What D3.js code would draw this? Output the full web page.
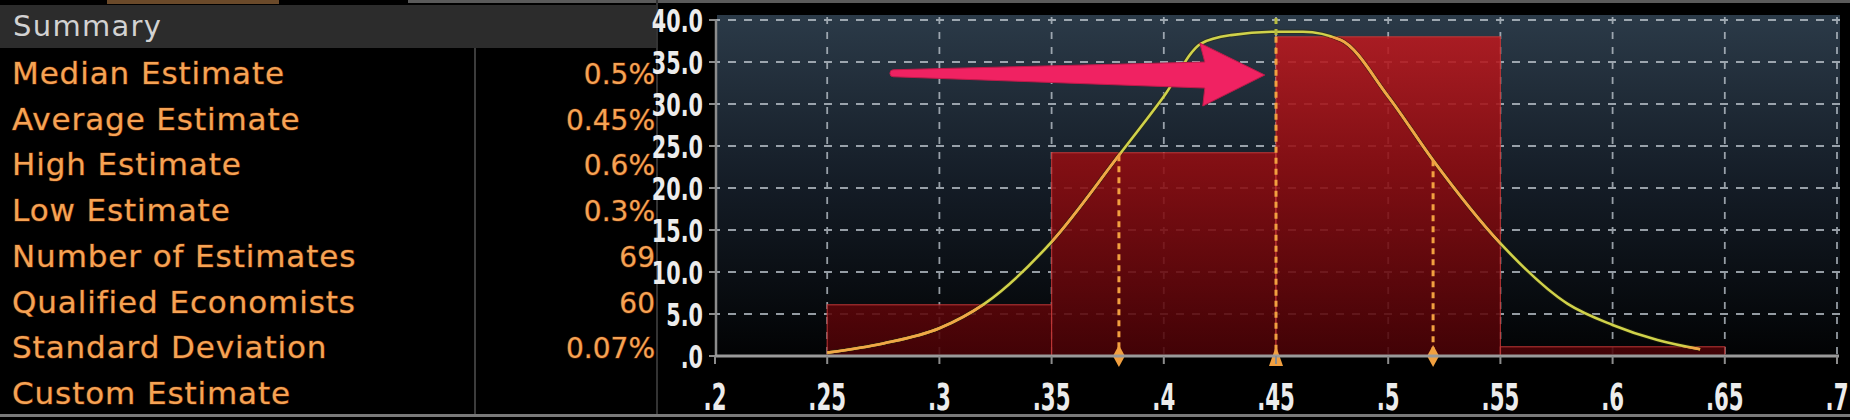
<!DOCTYPE html>
<html>
<head>
<meta charset="utf-8">
<script src="https://cdn.jsdelivr.net/npm/d3@7"></script>
<style>
html,body{margin:0;padding:0;background:#000;}
svg{display:block;}
</style>
</head>
<body>
<div id="chart"></div>
<script>
// ---------- data ----------
const summaryLabels = ["Median Estimate","Average Estimate","High Estimate","Low Estimate","Number of Estimates","Qualified Economists","Standard Deviation","Custom Estimate"];
const summaryValues = ["0.5%","0.45%","0.6%","0.3%","69","60","0.07%",""];

const xTicks = [0.2,0.25,0.3,0.35,0.4,0.45,0.5,0.55,0.6,0.65,0.7];
const xTickLabels = [".2",".25",".3",".35",".4",".45",".5",".55",".6",".65",".7"];
const yTicks = [0,5,10,15,20,25,30,35,40];
const yTickLabels = [".0","5.0","10.0","15.0","20.0","25.0","30.0","35.0","40.0"];

const binStart = [0.25,0.35,0.45,0.55];
const binEnd   = [0.35,0.45,0.55,0.65];
const binValue = [6.1,24.2,38.0,1.1];

const curveX = [0.25,0.275,0.30,0.32,0.35,0.38,0.40,0.4166,0.43,0.45,0.462,0.479,0.50,0.52,0.55,0.58,0.60,0.62,0.639];
const curveY = [0.4,1.5,3.3,6.2,13.6,23.9,30.9,37.2,38.2,38.6,38.6,37.6,30.9,23.3,13.4,6.2,3.7,1.9,0.8];

const meanX = 0.45;
const sdX = [0.38,0.52];
const sdTop = [23.9,23.3];

const arrowTail = {x:0.2795, y:33.6};
const arrowTip  = {x:0.445,  y:33.45};

// ---------- setup ----------
const W = 1850, H = 420;
const svg = d3.select("#chart").append("svg").attr("width",W).attr("height",H);
const defs = svg.append("defs");

const x = d3.scaleLinear().domain([0.2,0.7]).range([715,1837]);
const y = d3.scaleLinear().domain([0,40]).range([356,20]);

svg.append("rect").attr("width",W).attr("height",H).attr("fill","#000");

// top strips
svg.append("rect").attr("x",408).attr("y",0).attr("width",W-408).attr("height",3).attr("fill","#5a5a5a");
svg.append("rect").attr("x",107).attr("y",0).attr("width",172).attr("height",4).attr("fill","#6b4a2a");

// ---------- summary table ----------
svg.append("rect").attr("x",0).attr("y",5).attr("width",656).attr("height",43).attr("fill","#2c2c2c");
svg.append("text").attr("x",13).attr("y",36).text("Summary")
  .attr("font-family","DejaVu Sans").attr("font-size",29).attr("letter-spacing",1.3).attr("fill","#d2d2d2");
svg.append("line").attr("x1",475).attr("x2",475).attr("y1",48).attr("y2",415).attr("stroke","#3c3c3c").attr("stroke-width",2);
svg.append("line").attr("x1",657).attr("x2",657).attr("y1",0).attr("y2",415).attr("stroke","#333").attr("stroke-width",2);

const rowY = d3.scaleLinear().domain([0,7]).range([84,404]);
const tbl = svg.append("g").attr("font-family","DejaVu Sans")
  .attr("fill","#f5a355").attr("stroke","#5a2200").attr("stroke-width",1.2).attr("paint-order","stroke");
tbl.selectAll("text.lab").data(summaryLabels).join("text").attr("class","lab")
  .attr("x",12).attr("y",(d,i)=>rowY(i)).attr("font-size",31).attr("letter-spacing",0.9).text(d=>d);
tbl.selectAll("text.val").data(summaryValues).join("text").attr("class","val")
  .attr("x",655).attr("y",(d,i)=>rowY(i)).attr("font-size",28).attr("text-anchor","end").text(d=>d);

// bottom border
svg.append("rect").attr("x",0).attr("y",414).attr("width",W).attr("height",3).attr("fill","#7a7a7a");

// ---------- plot ----------
const bgGrad = defs.append("linearGradient").attr("id","bgGrad")
  .attr("gradientUnits","userSpaceOnUse").attr("x1",0).attr("x2",0).attr("y1",15).attr("y2",356);
bgGrad.append("stop").attr("offset",0).attr("stop-color","#2b3a48");
bgGrad.append("stop").attr("offset",0.5).attr("stop-color","#141c26");
bgGrad.append("stop").attr("offset",1).attr("stop-color","#020304");

svg.append("rect").attr("x",717).attr("y",15).attr("width",1840-717).attr("height",356-15).attr("fill","url(#bgGrad)");

// grid
const grid = svg.append("g").attr("stroke","#c4ccd4").attr("stroke-width",1.8).attr("stroke-dasharray","8,8").attr("opacity",0.75);
grid.selectAll("line.h").data(yTicks.slice(1)).join("line").attr("class","h")
  .attr("x1",x(0.2)-3).attr("x2",x(0.7)+3).attr("y1",d=>y(d)).attr("y2",d=>y(d));
grid.selectAll("line.v").data(xTicks.slice(1)).join("line").attr("class","v")
  .attr("x1",d=>x(d)).attr("x2",d=>x(d)).attr("y1",y(40)-3).attr("y2",y(0)).attr("stroke-dasharray","7,8");

// bars
const barGrad = defs.append("linearGradient").attr("id","barGrad")
  .attr("gradientUnits","userSpaceOnUse").attr("x1",0).attr("x2",0).attr("y1",y(40)).attr("y2",y(0));
barGrad.append("stop").attr("offset",0).attr("stop-color","#c01a20");
barGrad.append("stop").attr("offset",0.45).attr("stop-color","#8e0c10");
barGrad.append("stop").attr("offset",1).attr("stop-color","#4a0206");

const bins = binValue.map((v,i)=>({x0:binStart[i],x1:binEnd[i],v}));
svg.append("g").selectAll("rect").data(bins).join("rect")
  .attr("x",d=>x(d.x0)).attr("width",d=>x(d.x1)-x(d.x0))
  .attr("y",d=>y(d.v)).attr("height",d=>y(0)-y(d.v))
  .attr("fill","url(#barGrad)").attr("fill-opacity",0.88)
  .attr("stroke","#c83a3a").attr("stroke-width",1.2).attr("stroke-opacity",0.8);

const clip = defs.append("clipPath").attr("id","barClip");
clip.selectAll("rect").data(bins).join("rect")
  .attr("x",d=>x(d.x0)).attr("width",d=>x(d.x1)-x(d.x0))
  .attr("y",d=>y(d.v)).attr("height",d=>y(0)-y(d.v));

// curve
const pts = curveX.map((v,i)=>[v,curveY[i]]);
const line = d3.line().x(d=>x(d[0])).y(d=>y(d[1])).curve(d3.curveMonotoneX);
svg.append("path").attr("d",line(pts)).attr("fill","none").attr("stroke","#2a2a10").attr("stroke-width",4.5).attr("opacity",0.5);
svg.append("path").attr("d",line(pts)).attr("fill","none").attr("stroke","#d0d24a").attr("stroke-width",2.6);
svg.append("path").attr("d",line(pts)).attr("fill","none").attr("stroke","#f2a646").attr("stroke-width",2.6).attr("clip-path","url(#barClip)");

// sd lines
const mk = svg.append("g");
mk.selectAll("line.sd").data(sdX).join("line").attr("class","sd")
  .attr("x1",d=>x(d)).attr("x2",d=>x(d)).attr("y1",(d,i)=>y(sdTop[i])).attr("y2",y(0))
  .attr("stroke","#f2a040").attr("stroke-width",3).attr("stroke-dasharray","6,5");
// mean line: above bar in yellow-green, inside bar in orange
const meanBar = d3.max(bins.filter(b=>b.x0===meanX||b.x1===meanX),b=>b.v);
mk.append("line").attr("x1",x(meanX)).attr("x2",x(meanX)).attr("y1",y(40)-2).attr("y2",y(meanBar))
  .attr("stroke","#b8bc40").attr("stroke-width",3).attr("stroke-dasharray","6,5");
mk.append("line").attr("x1",x(meanX)).attr("x2",x(meanX)).attr("y1",y(meanBar)).attr("y2",y(0))
  .attr("stroke","#f2a040").attr("stroke-width",3).attr("stroke-dasharray","6,5");

// axes lines
svg.append("line").attr("x1",x(0.2)+1).attr("x2",x(0.2)+1).attr("y1",y(40)).attr("y2",y(0)).attr("stroke","#8c8c8c").attr("stroke-width",2.5);
svg.append("g").selectAll("line").data(yTicks).join("line")
  .attr("x1",x(0.2)-6).attr("x2",x(0.2)+1).attr("y1",d=>y(d)).attr("y2",d=>y(d)).attr("stroke","#8c8c8c").attr("stroke-width",2);
svg.append("line").attr("x1",x(0.2)).attr("x2",x(0.7)+2).attr("y1",y(0)).attr("y2",y(0)).attr("stroke","#9a9a9a").attr("stroke-width",3);
svg.append("g").selectAll("line").data(xTicks).join("line")
  .attr("x1",d=>x(d)).attr("x2",d=>x(d)).attr("y1",y(0)).attr("y2",y(0)+8).attr("stroke","#8c8c8c").attr("stroke-width",2);

// markers
mk.selectAll("path.dia").data(sdX).join("path").attr("class","dia")
  .attr("transform",d=>`translate(${x(d)},${y(0)})`).attr("d","M0,-11L6,0L0,11L-6,0Z").attr("fill","#f2a040");
mk.append("path").attr("transform",`translate(${x(meanX)},${y(0)})`).attr("d","M0,-10L7,10L-7,10Z").attr("fill","#f2a040");

// tick labels
const yl = svg.append("g").attr("font-family","Liberation Sans Narrow, DejaVu Sans Condensed, sans-serif").attr("font-size",32).attr("font-weight","bold").attr("fill","#ececec");
yl.selectAll("g").data(yTicks).join("g").attr("transform",d=>`translate(703,${y(d)+11.5}) scale(0.72,1)`)
  .append("text").attr("text-anchor","end").text((d,i)=>yTickLabels[i]);
const xl = svg.append("g").attr("font-family","Liberation Sans Narrow, DejaVu Sans Condensed, sans-serif").attr("font-size",37).attr("font-weight","bold").attr("fill","#ececec");
xl.selectAll("g").data(xTicks).join("g").attr("transform",d=>`translate(${x(d)},410) scale(0.64,1)`)
  .append("text").attr("text-anchor","middle").text((d,i)=>xTickLabels[i]);

// arrow annotation
const tx = x(arrowTip.x), ty = y(arrowTip.y), sx = x(arrowTail.x), sy = y(arrowTail.y);
const ap = d3.path();
ap.moveTo(sx, sy-4);
ap.lineTo(tx-60, ty-13);
ap.lineTo(tx-65, ty-32);
ap.lineTo(tx, ty);
ap.lineTo(tx-62, ty+31);
ap.lineTo(tx-60, ty+13);
ap.lineTo(sx, sy+3);
ap.arc(sx, sy-0.5, 3.5, Math.PI/2, 3*Math.PI/2);
ap.closePath();
svg.append("path").attr("d",ap.toString()).attr("fill","#f02262").attr("stroke","#c01a4a").attr("stroke-width",1).attr("stroke-linejoin","round");
</script>
</body>
</html>
